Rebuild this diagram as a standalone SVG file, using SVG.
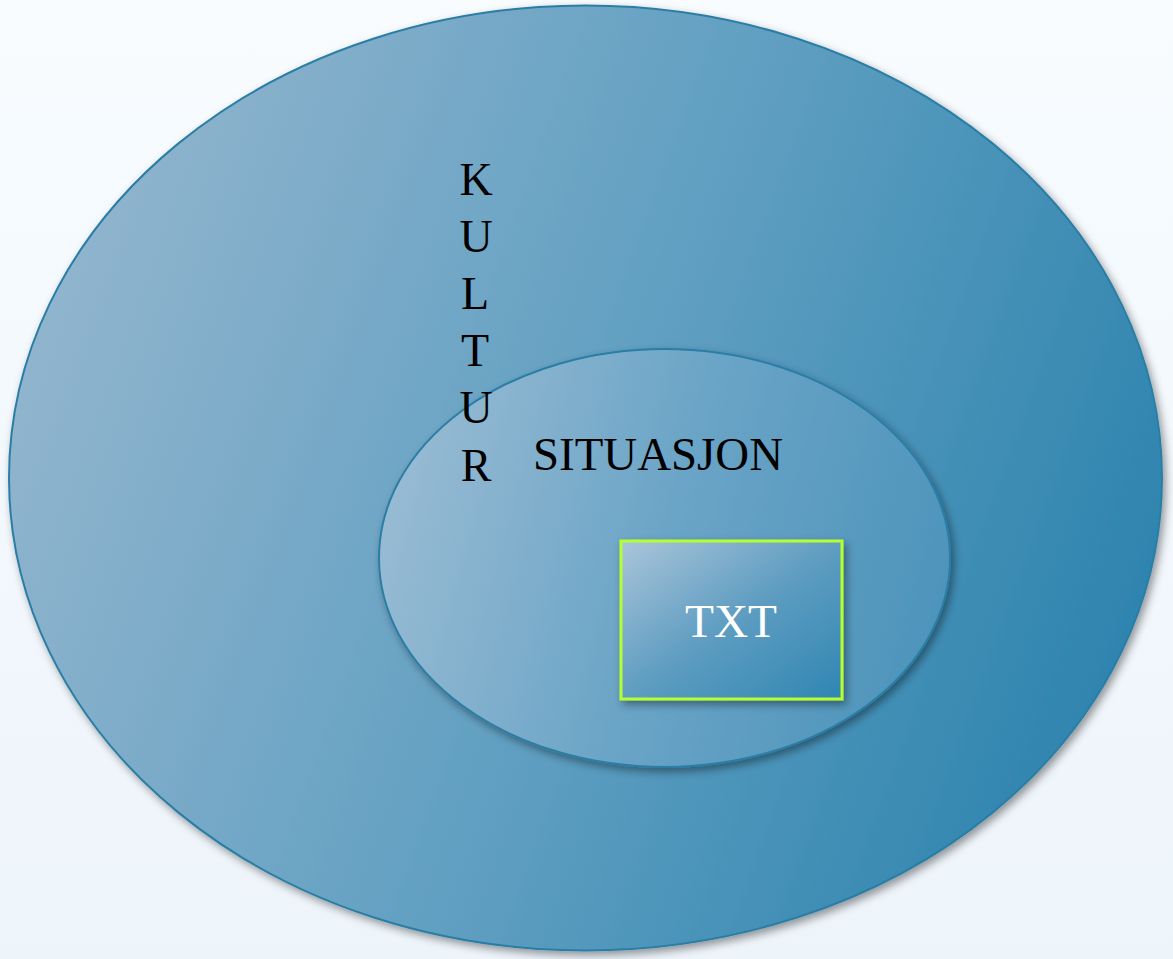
<svg xmlns="http://www.w3.org/2000/svg" width="1173" height="959" viewBox="0 0 1173 959">
<style>
.lbl{font-family:"Liberation Serif","Times New Roman",serif;font-size:46px;fill:#000}
.v{text-anchor:middle}
.ell{stroke:#2a7ea6;stroke-width:2}
</style>
<defs>
<linearGradient id="bg" x1="0" y1="0" x2="0" y2="1">
<stop offset="0" stop-color="#f8fcff"/><stop offset="1" stop-color="#edf4fa"/>
</linearGradient>
<linearGradient id="outer" x1="0" y1="0.35" x2="1" y2="0.65">
<stop offset="0" stop-color="#92b5ce"/><stop offset="0.5" stop-color="#62a0c2"/><stop offset="1" stop-color="#2c83ae"/>
</linearGradient>
<linearGradient id="inner" x1="0" y1="0.4" x2="1" y2="0.6">
<stop offset="0" stop-color="#98bbd3"/><stop offset="0.5" stop-color="#6aa4c6"/><stop offset="1" stop-color="#4d94bb"/>
</linearGradient>
<linearGradient id="box" x1="0" y1="0" x2="1" y2="1">
<stop offset="0" stop-color="#aac5da"/><stop offset="0.5" stop-color="#5f9dc1"/><stop offset="1" stop-color="#2f86b3"/>
</linearGradient>
<filter id="sh" x="-10%" y="-10%" width="125%" height="125%">
<feDropShadow dx="3" dy="4" stdDeviation="4" flood-color="#000" flood-opacity="0.4"/>
</filter>
</defs>
<rect width="1173" height="959" fill="url(#bg)"/>
<g id="kultur">
<ellipse class="ell" cx="585.5" cy="478" rx="576.5" ry="472.5" fill="url(#outer)" filter="url(#sh)"/>
</g>
<g id="situasjon">
<ellipse class="ell" cx="664.5" cy="558" rx="285.5" ry="209" fill="url(#inner)" filter="url(#sh)"/>
<text class="lbl" x="533" y="470" textLength="250" lengthAdjust="spacingAndGlyphs">SITUASJON</text>
</g>
<g id="kultur-label">
<text class="lbl v" x="476" y="195">K</text>
<text class="lbl v" x="476" y="252">U</text>
<text class="lbl v" x="475" y="309">L</text>
<text class="lbl v" x="475" y="366">T</text>
<text class="lbl v" x="476" y="423">U</text>
<text class="lbl v" x="476" y="481">R</text>
</g>
<g id="txt">
<rect x="621" y="541" width="221" height="158" fill="url(#box)" stroke="#b4ff2e" stroke-width="3" filter="url(#sh)"/>
<text class="lbl" x="731" y="637" text-anchor="middle" style="fill:#ffffff" textLength="92" lengthAdjust="spacingAndGlyphs">TXT</text>
</g>
<g id="connectors"/>
</svg>
